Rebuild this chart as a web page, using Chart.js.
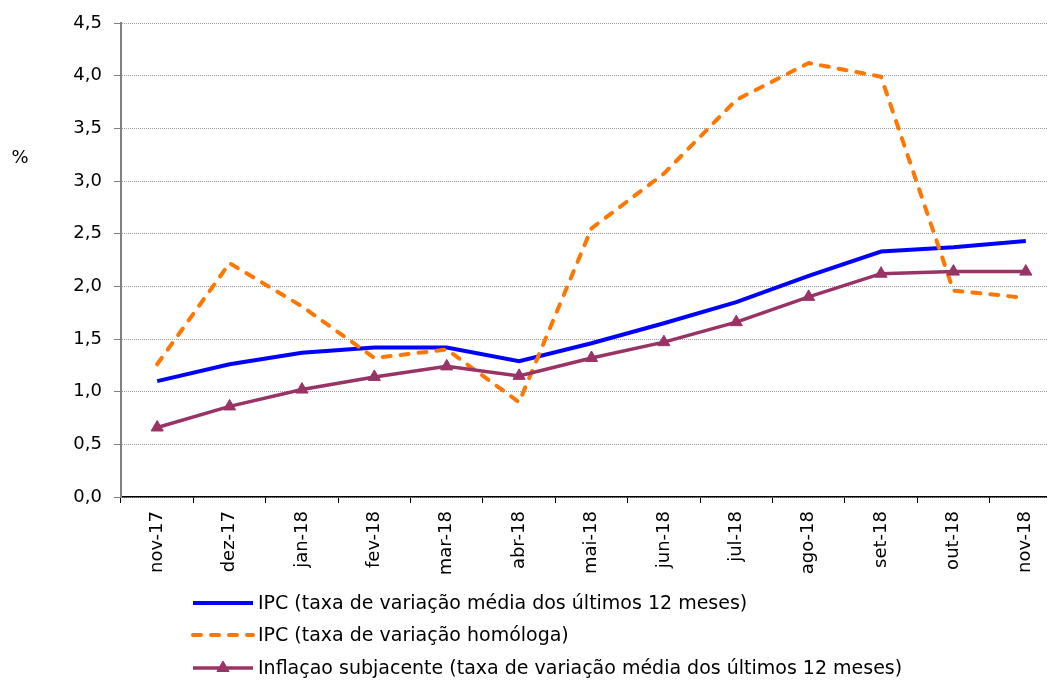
<!DOCTYPE html>
<html>
<head>
<meta charset="utf-8">
<script src="https://cdn.jsdelivr.net/npm/chart.js@4"></script>
<style>
  html, body { margin: 0; padding: 0; background: #fff; }
  #wrap { width: 1047px; height: 682px; position: relative; overflow: hidden; }
  /* plot area runs a bit past the right edge, like the cropped original */
  #inner { width: 1070px; height: 682px; position: absolute; left: 0; top: 0; }
</style>
</head>
<body>
<div id="wrap"><div id="inner"><canvas id="chart"></canvas></div></div>
<script>
const labels = ['nov-17', 'dez-17', 'jan-18', 'fev-18', 'mar-18', 'abr-18', 'mai-18', 'jun-18', 'jul-18', 'ago-18', 'set-18', 'out-18', 'nov-18'];
const ipcMedia = [1.10, 1.26, 1.37, 1.42, 1.42, 1.29, 1.46, 1.65, 1.85, 2.10, 2.33, 2.37, 2.43];
const ipcHomologa = [1.26, 2.22, 1.81, 1.32, 1.40, 0.90, 2.55, 3.07, 3.77, 4.12, 3.99, 1.96, 1.89];
const inflacaoSubjacente = [0.66, 0.86, 1.02, 1.14, 1.24, 1.15, 1.32, 1.47, 1.66, 1.90, 2.12, 2.14, 2.14];
const seriesNames = [
  'IPC (taxa de variação média dos últimos 12 meses)',
  'IPC (taxa de variação homóloga)',
  'Inflaçao subjacente (taxa de variação média dos últimos 12 meses)'
];
const yUnit = '%';

const FONT = "'DejaVu Sans', sans-serif";

// legend + unit label drawn by hand, Excel style
const extras = {
  id: 'extras',
  afterDraw(chart) {
    const ctx = chart.ctx;
    ctx.save();
    ctx.fillStyle = '#000';
    ctx.font = '18px ' + FONT;
    ctx.textAlign = 'center';
    ctx.textBaseline = 'middle';
    ctx.fillText(yUnit, 20, 158);

    const x1 = 193, x2 = 253, textX = 258;
    const rows = [603, 635, 668];
    chart.data.datasets.forEach((ds, i) => {
      const y = rows[i];
      ctx.save();
      ctx.strokeStyle = ds.borderColor;
      ctx.lineWidth = ds.borderWidth;
      ctx.lineCap = ds.borderCapStyle || 'butt';
      ctx.setLineDash(ds.borderDash || []);
      ctx.beginPath();
      ctx.moveTo(x1, y);
      ctx.lineTo(x2, y);
      ctx.stroke();
      ctx.restore();
      if (ds.pointRadius > 0) {
        ctx.fillStyle = ds.pointBackgroundColor;
        ctx.strokeStyle = ds.pointBorderColor;
        Chart.helpers.drawPoint(ctx, {
          pointStyle: ds.pointStyle, radius: ds.pointRadius, rotation: 0, borderWidth: 1
        }, (x1 + x2) / 2, y);
      }
      ctx.fillStyle = '#000';
      ctx.font = '19px ' + FONT;
      ctx.textAlign = 'left';
      ctx.textBaseline = 'middle';
      ctx.fillText(seriesNames[i], textX, y + 1);
    });
    ctx.restore();
  }
};

new Chart(document.getElementById('chart'), {
  type: 'line',
  data: {
    labels: labels,
    datasets: [
      {
        label: seriesNames[0],
        data: ipcMedia,
        borderColor: '#0000ff',
        borderWidth: 4,
        pointRadius: 0,
        tension: 0,
        order: 3
      },
      {
        label: seriesNames[1],
        data: ipcHomologa,
        borderColor: '#ff7700',
        borderWidth: 4,
        borderDash: [8, 10],
        borderCapStyle: 'round',
        pointRadius: 0,
        tension: 0,
        order: 2
      },
      {
        label: seriesNames[2],
        data: inflacaoSubjacente,
        borderColor: '#993366',
        borderWidth: 3.5,
        pointStyle: 'triangle',
        pointRadius: 7,
        pointBackgroundColor: '#993366',
        pointBorderColor: '#993366',
        pointBorderWidth: 1,
        tension: 0,
        order: 1
      }
    ]
  },
  options: {
    responsive: true,
    maintainAspectRatio: false,
    animation: false,
    layout: { padding: { top: 23, right: 1, bottom: 0, left: 0 } },
    plugins: {
      legend: { display: false },
      tooltip: { enabled: false }
    },
    scales: {
      x: {
        offset: true,
        grid: {
          offset: true,
          drawOnChartArea: false,
          drawTicks: true,
          tickLength: 6,
          color: '#000'
        },
        border: { color: '#000', width: 1.5 },
        ticks: {
          autoSkip: false,
          minRotation: 90,
          maxRotation: 90,
          padding: 8,
          color: '#000',
          font: { family: FONT, size: 18 }
        },
        afterFit(scale) { scale.height = 185; }
      },
      y: {
        min: 0,
        max: 4.5,
        grid: {
          color: '#9a9a9a',
          lineWidth: 1,
          tickLength: 7,
          tickColor: '#808080'
        },
        border: { color: '#808080', width: 2, dash: [1, 1] },
        ticks: {
          stepSize: 0.5,
          padding: 12,
          color: '#000',
          font: { family: FONT, size: 18 },
          callback: (v) => v.toFixed(1).replace('.', ',')
        },
        afterFit(scale) { scale.width = 121; }
      }
    }
  },
  plugins: [extras]
});
</script>
</body>
</html>
